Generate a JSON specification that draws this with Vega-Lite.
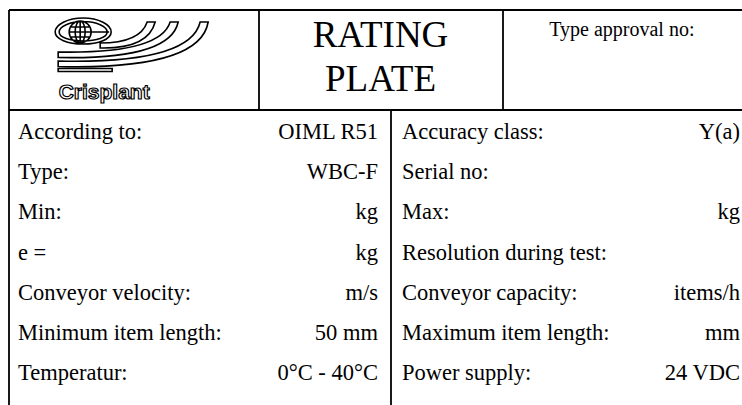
{
  "$schema": "https://vega.github.io/schema/vega-lite/v6.json",
  "width": 742,
  "height": 405,
  "padding": 0,
  "autosize": {"type": "none"},
  "background": "white",
  "config": {"view": {"stroke": null}},
  "datasets": {
    "body": [
      {"row": 1, "side": "L", "label": "According to:", "value": "OIML R51"},
      {"row": 2, "side": "L", "label": "Type:", "value": "WBC-F"},
      {"row": 3, "side": "L", "label": "Min:", "value": "kg"},
      {"row": 4, "side": "L", "label": "e =", "value": "kg"},
      {"row": 5, "side": "L", "label": "Conveyor velocity:", "value": "m/s"},
      {"row": 6, "side": "L", "label": "Minimum item length:", "value": "50 mm"},
      {"row": 7, "side": "L", "label": "Temperatur:", "value": "0°C - 40°C"},
      {"row": 1, "side": "R", "label": "Accuracy class:", "value": "Y(a)"},
      {"row": 2, "side": "R", "label": "Serial no:", "value": ""},
      {"row": 3, "side": "R", "label": "Max:", "value": "kg"},
      {"row": 4, "side": "R", "label": "Resolution during test:", "value": ""},
      {"row": 5, "side": "R", "label": "Conveyor capacity:", "value": "items/h"},
      {"row": 6, "side": "R", "label": "Maximum item length:", "value": "mm"},
      {"row": 7, "side": "R", "label": "Power supply:", "value": "24 VDC"}
    ],
    "header": [
      {"cell": "logo", "line": 1, "text": ""},
      {"cell": "title", "line": 1, "text": "RATING"},
      {"cell": "title", "line": 2, "text": "PLATE"},
      {"cell": "approval", "line": 1, "text": "Type approval no:"},
      {"cell": "logo", "line": 2, "text": "Crisplant"}
    ],
    "lines": [
      {"edge": "top", "a": 9, "b": 742, "c": 10, "d": 10},
      {"edge": "left", "a": 9, "b": 9, "c": 10, "d": 405},
      {"edge": "logo|title", "a": 259, "b": 259, "c": 10, "d": 110},
      {"edge": "title|approval", "a": 503, "b": 503, "c": 10, "d": 110},
      {"edge": "header bottom", "a": 9, "b": 742, "c": 110, "d": 110},
      {"edge": "body middle", "a": 391, "b": 391, "c": 110, "d": 405}
    ]
  },
  "layer": [
    {
      "data": {"name": "lines"},
      "mark": {"type": "rule", "color": "black", "strokeWidth": 1.8},
      "encoding": {
        "x": {"field": "a", "type": "quantitative", "axis": null, "scale": {"domain": [0, 742], "range": [0, 742], "nice": false, "zero": false}},
        "x2": {"field": "b"},
        "y": {"field": "c", "type": "quantitative", "axis": null, "scale": {"domain": [0, 405], "range": [0, 405], "nice": false, "zero": false}},
        "y2": {"field": "d"}
      }
    },
    {
      "data": {"name": "header"},
      "transform": [{"filter": "datum.cell == 'logo' && datum.line == 1"}],
      "mark": {
        "type": "point",
        "filled": true,
        "fill": "white",
        "stroke": "black",
        "strokeWidth": 1.6,
        "opacity": 1,
        "size": 4,
        "shape": "M -81 -6 C -81 -13.2 -68.5 -20 -53 -20 C -37.5 -20 -25 -13.2 -25 -6 C -25 1.2 -37.5 6 -53 6 C -68.5 6 -81 1.2 -81 -6 Z M -77 -6 C -77 -11.5 -66.3 -16.5 -53 -16.5 C -39.7 -16.5 -29 -11.5 -29 -6 C -29 -0.5 -39.7 3 -53 3 C -66.3 3 -77 -0.5 -77 -6 Z M -67 -6 C -67 -12 -62 -17 -56 -17 C -50 -17 -45 -12 -45 -6 C -45 0 -50 5 -56 5 C -62 5 -67 0 -67 -6 Z M -61 -6 C -61 -12 -58.8 -17 -56 -17 C -53.2 -17 -51 -12 -51 -6 C -51 0 -53.2 5 -56 5 C -58.8 5 -61 0 -61 -6 Z M -56 -17 L -56 5 M -65 -11 L -47 -11 M -67 -6 L -27 -6 M -65 -1 L -47 -1 M -36 5 Q 4 5 11 -16 L 19 -16 Q 12 11 -36 10 Z M -78 14 Q 24 16 34 -16 L 42 -16 Q 34 22 -78 19.5 Z M -78 23 Q 54 26 64 -16 L 72 -16 Q 64 32 -78 28.5 Z M -78 30.5 L -24 30.5 L -24 33.5 L -78 33.5 Z"
      },
      "encoding": {
        "x": {"field": "cell", "type": "nominal", "axis": null, "scale": {"type": "band", "domain": ["logo", "title", "approval"], "range": [14, 747], "paddingInner": 0, "paddingOuter": 0}},
        "y": {"field": "line", "type": "ordinal", "axis": null, "scale": {"type": "point", "domain": [1, 2], "range": [38, 79], "padding": 0}}
      }
    },
    {
      "data": {"name": "header"},
      "transform": [{"filter": "datum.cell == 'title'"}],
      "mark": {"type": "text", "font": "Liberation Serif", "fontSize": 37, "color": "black", "align": "center", "baseline": "middle"},
      "encoding": {
        "x": {"field": "cell", "type": "nominal", "axis": null, "scale": {"type": "band", "domain": ["logo", "title", "approval"], "range": [14, 747], "paddingInner": 0, "paddingOuter": 0}},
        "y": {"field": "line", "type": "ordinal", "axis": null, "scale": {"type": "point", "domain": [1, 2], "range": [36, 80], "padding": 0}},
        "text": {"field": "text"}
      }
    },
    {
      "data": {"name": "header"},
      "transform": [{"filter": "datum.cell == 'approval'"}],
      "mark": {"type": "text", "font": "Liberation Serif", "fontSize": 20, "color": "black", "align": "center", "baseline": "middle", "dx": -3, "dy": -6},
      "encoding": {
        "x": {"field": "cell", "type": "nominal", "axis": null, "scale": {"type": "band", "domain": ["logo", "title", "approval"], "range": [14, 747], "paddingInner": 0, "paddingOuter": 0}},
        "y": {"field": "line", "type": "ordinal", "axis": null, "scale": {"type": "point", "domain": [1, 2], "range": [36, 80], "padding": 0}},
        "text": {"field": "text"}
      }
    },
    {
      "data": {"name": "header"},
      "transform": [{"filter": "datum.cell == 'logo' && datum.line == 2"}],
      "mark": {"type": "text", "font": "Liberation Sans", "fontWeight": "bold", "fontSize": 21, "fill": "white", "stroke": "black", "strokeWidth": 1.2, "align": "center", "baseline": "middle", "dx": -32, "dy": 13},
      "encoding": {
        "x": {"field": "cell", "type": "nominal", "axis": null, "scale": {"type": "band", "domain": ["logo", "title", "approval"], "range": [14, 747], "paddingInner": 0, "paddingOuter": 0}},
        "y": {"field": "line", "type": "ordinal", "axis": null, "scale": {"type": "point", "domain": [1, 2], "range": [36, 80], "padding": 0}},
        "text": {"field": "text"}
      }
    },
    {
      "data": {"name": "body"},
      "mark": {"type": "text", "font": "Liberation Serif", "fontSize": 22.5, "color": "black", "align": "left", "baseline": "middle"},
      "encoding": {
        "x": {"field": "side", "type": "nominal", "axis": null, "scale": {"type": "point", "domain": ["L", "R"], "range": [18, 402], "padding": 0}},
        "y": {"field": "row", "type": "ordinal", "axis": null, "scale": {"type": "point", "domain": [1, 2, 3, 4, 5, 6, 7], "range": [132, 373], "padding": 0}},
        "text": {"field": "label"}
      }
    },
    {
      "data": {"name": "body"},
      "mark": {"type": "text", "font": "Liberation Serif", "fontSize": 22.5, "color": "black", "align": "right", "baseline": "middle"},
      "encoding": {
        "x": {"field": "side", "type": "nominal", "axis": null, "scale": {"type": "point", "domain": ["L", "R"], "range": [378, 740], "padding": 0}},
        "y": {"field": "row", "type": "ordinal", "axis": null, "scale": {"type": "point", "domain": [1, 2, 3, 4, 5, 6, 7], "range": [132, 373], "padding": 0}},
        "text": {"field": "value"}
      }
    }
  ],
  "resolve": {"scale": {"x": "independent", "y": "independent"}}
}
